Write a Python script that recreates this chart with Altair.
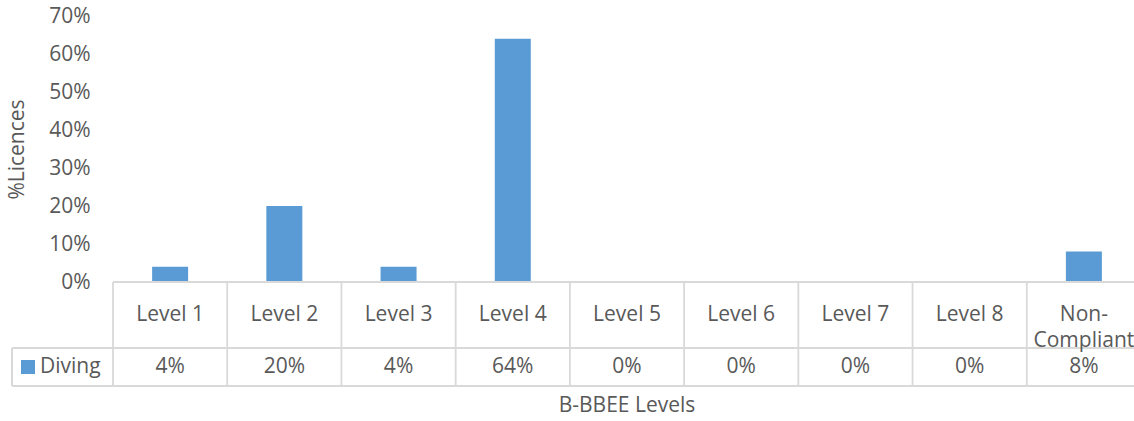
import altair as alt
import pandas as pd

# B-BBEE level distribution of diving licences
levels = ["Level 1", "Level 2", "Level 3", "Level 4", "Level 5",
          "Level 6", "Level 7", "Level 8", "Non-\nCompliant"]
diving = [0.04, 0.20, 0.04, 0.64, 0.00, 0.00, 0.00, 0.00, 0.08]
series = ["Diving"]
y_ticks = [0, 0.1, 0.2, 0.3, 0.4, 0.5, 0.6, 0.7]

df = pd.DataFrame({"level": levels, "share": diving})
legend_df = pd.DataFrame({"series": series})
title_df = pd.DataFrame({"label": ["B-BBEE Levels"]})

FONT = "Open Sans"
TEXT = "#595959"
GRID = "#d9d9d9"
BLUE = "#5B9BD5"
FS = 21

W, H = 1021, 266          # visible plot area
SPAN = 1028               # full span of the nine columns
ROW1, ROW2 = 332, 370     # table row bottoms (pixels from plot top)

xscale = alt.Scale(domain=levels, range=[0, SPAN], paddingInner=0, paddingOuter=0)
x_center = alt.X("level:N", sort=levels, scale=xscale, axis=None)
x_edge = alt.X("level:N", sort=levels, scale=xscale, axis=None, bandPosition=0)

base = alt.Chart(df)

bars = base.mark_bar(size=36, color=BLUE).encode(
    x=x_center,
    y=alt.Y(
        "share:Q",
        scale=alt.Scale(domain=[0, 0.7], nice=False),
        axis=alt.Axis(
            values=y_ticks, format=".0%", grid=False, domain=False, ticks=False,
            labelPadding=23, labelFont=FONT, labelFontSize=FS, labelColor=TEXT,
            title="%Licences", titleFont=FONT, titleFontSize=FS,
            titleFontWeight="normal", titleColor=TEXT,
            titleX=-96, titleY=H / 2, titleAngle=-90,
            titleAlign="center", titleBaseline="middle",
        ),
    ),
)

# data-table grid lines
col_lines = base.mark_rule(color=GRID, strokeWidth=1.8).encode(
    x=x_edge, y=alt.value(H), y2=alt.value(ROW2)
)
top_line = base.mark_rule(color=GRID, strokeWidth=1.8).encode(
    x=alt.value(0), x2=alt.value(SPAN), y=alt.value(H)
)
mid_line = base.mark_rule(color=GRID, strokeWidth=1.8).encode(
    x=alt.value(-101), x2=alt.value(SPAN), y=alt.value(ROW1)
)
bot_line = base.mark_rule(color=GRID, strokeWidth=1.8).encode(
    x=alt.value(-101), x2=alt.value(SPAN), y=alt.value(ROW2)
)
left_line = base.mark_rule(color=GRID, strokeWidth=1.8).encode(
    x=alt.value(-101), y=alt.value(ROW1), y2=alt.value(ROW2)
)

cat_text = base.mark_text(
    font=FONT, fontSize=FS, color=TEXT, lineBreak="\n", lineHeight=26,
    baseline="middle",
).encode(x=x_center, y=alt.value((H + ROW1) / 2), text="level:N")

val_text = base.mark_text(
    font=FONT, fontSize=FS, color=TEXT, baseline="middle",
).encode(
    x=x_center, y=alt.value((ROW1 + ROW2) / 2),
    text=alt.Text("share:Q", format=".0%"),
)

legend_key = alt.Chart(legend_df).mark_square(
    size=196, color=BLUE, opacity=1, filled=True
).encode(x=alt.value(-85), y=alt.value((ROW1 + ROW2) / 2))

legend_text = alt.Chart(legend_df).mark_text(
    font=FONT, fontSize=FS, color=TEXT, align="left", baseline="middle",
).encode(x=alt.value(-73), y=alt.value((ROW1 + ROW2) / 2), text="series:N")

x_title = alt.Chart(title_df).mark_text(
    font=FONT, fontSize=FS, color=TEXT, baseline="middle",
).encode(x=alt.value(SPAN / 2), y=alt.value(390), text="label:N")

chart = alt.layer(
    bars, col_lines, top_line, mid_line, bot_line, left_line,
    cat_text, val_text, legend_key, legend_text, x_title,
).properties(
    width=W, height=H,
    autosize=alt.AutoSizeParams(type="none"),
    padding={"left": 113, "top": 16, "right": 0, "bottom": 421 - 16 - H},
    background="white",
).configure_view(stroke=None)

chart.save("out.html", embed_options={"renderer": "svg", "actions": False})
